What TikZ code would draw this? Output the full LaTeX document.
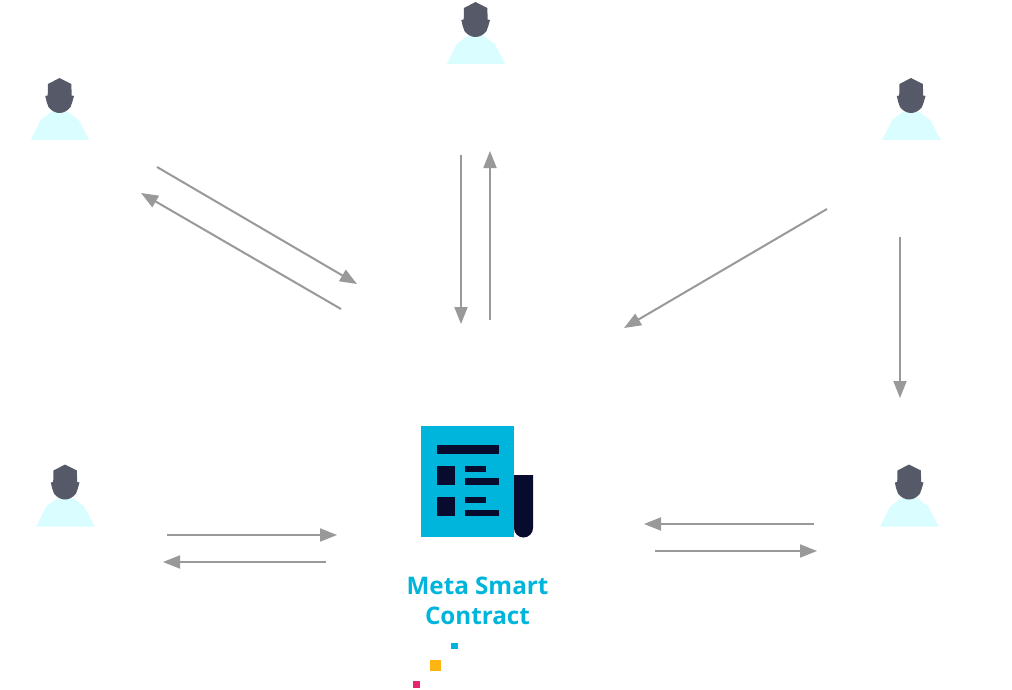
\documentclass[tikz,border=0pt]{standalone}
\usepackage{fontspec}
\setmainfont{Open Sans}
\usetikzlibrary{arrows.meta}
\definecolor{skin}{HTML}{DAFDFF}
\definecolor{headc}{HTML}{565A68}
\definecolor{cyanc}{HTML}{00B5DC}
\definecolor{navyc}{HTML}{070B2E}
\definecolor{orangec}{HTML}{FFB511}
\definecolor{pinkc}{HTML}{E8246E}
\definecolor{linec}{HTML}{999999}
\tikzset{
  flow/.style={draw=linec,line width=2pt,-{Triangle[length=17pt,width=13pt]}},
  person/.pic={
    \fill[skin] (-28.8,62) -- (-18.8,42) -- (-7.8,33.7) -- (8.2,33.7) -- (19.2,42) -- (29.8,62) -- cycle;
    \fill[headc] (0,0) -- (11.8,6) -- (12.2,17.5) -- (14.5,18) -- (12.8,24) -- (11,29) .. controls (8,33) and (4,35) .. (0,35) .. controls (-4,35) and (-8,33) .. (-11,29) -- (-12.8,24) -- (-14.2,18) -- (-11.8,17.5) -- (-11.5,6) -- cycle;
  },
  docpart/.style={fill=navyc},
  caption/.style={text=cyanc,align=center,font=\fontsize{24.2}{30}\selectfont\bfseries}
}
\begin{document}
\begin{tikzpicture}[x=1pt,y=-1pt]
\useasboundingbox (0,0) rectangle (1012,690);
\pic at (59.5,78) {person};
\pic at (475.5,2) {person};
\pic at (911,78) {person};
\pic at (65,464.5) {person};
\pic at (909,464.5) {person};
% arrow end points
\coordinate (a1s) at (157,167); \coordinate (a1e) at (357,284);
\coordinate (a2s) at (341,309); \coordinate (a2e) at (141,193);
\coordinate (a3s) at (461,155); \coordinate (a3e) at (461,324);
\coordinate (a4s) at (490,320); \coordinate (a4e) at (490,151);
\coordinate (a5s) at (827,209); \coordinate (a5e) at (624,328);
\coordinate (a6s) at (900,237); \coordinate (a6e) at (900,398);
\coordinate (a7s) at (167,535); \coordinate (a7e) at (337,535);
\coordinate (a8s) at (326,562); \coordinate (a8e) at (163,562);
\coordinate (a9s) at (814,524); \coordinate (a9e) at (644,524);
\coordinate (a10s) at (655,551); \coordinate (a10e) at (817,551);
\foreach \i in {1,...,10} \draw[flow] (a\i s) -- (a\i e);
% document
\fill[docpart] (514,475) -- (533,475) -- (533,528) arc[start angle=0,end angle=-180,x radius=9.5,y radius=-9.5] -- cycle;
\fill[cyanc] (421,426) rectangle (514,537);
\fill[docpart] (436.5,444.5) rectangle (498.5,454);
\fill[docpart] (436.5,466) rectangle (455,484.5);
\fill[docpart] (436.5,497) rectangle (455,515.5);
\fill[docpart] (464.5,466) rectangle (486,472);
\fill[docpart] (464.5,478) rectangle (498.5,484.5);
\fill[docpart] (464.5,497) rectangle (486,503);
\fill[docpart] (464.5,509.5) rectangle (498.5,515.5);
\node[caption,anchor=center] (label) at (477.5,601) {Meta Smart\\Contract};
\fill[cyanc] (451,642.5) rectangle (457.5,649);
\fill[orangec] (429.5,659.5) rectangle (441,671);
\fill[pinkc] (412.5,681) rectangle (419.5,688);
\end{tikzpicture}
\end{document}
